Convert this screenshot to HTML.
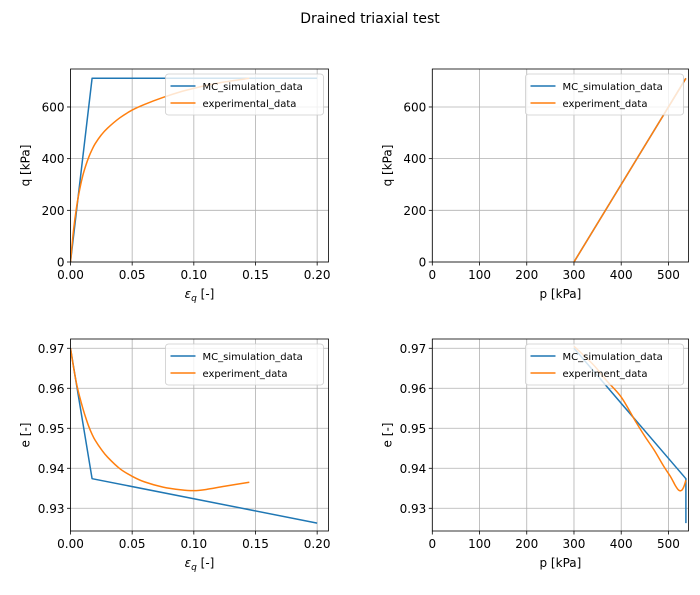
<!DOCTYPE html>
<html><head><meta charset="utf-8"><style>
body{margin:0;background:#fff}
svg{font-family:"DejaVu Sans","Liberation Sans",sans-serif}
</style></head><body>
<svg id="c" width="700" height="590" viewBox="0 0 700 590" xmlns="http://www.w3.org/2000/svg">
<text x="370" y="23" font-size="14" text-anchor="middle" fill="#000">Drained triaxial test</text>
</svg>
<script>
// Data arrays
const mcEps = [0, 0.0175, 0.2];
const mcQ = [0, 711, 711];
const mcE = [0.97, 0.9374, 0.9263];
const mcP = [300, 537, 537];
const mcE2 = [0.97, 0.9374, 0.9263];
const expEps = [0, 0.0025, 0.005, 0.0075, 0.01, 0.0125, 0.015, 0.0175, 0.02, 0.025, 0.03, 0.04, 0.05, 0.06, 0.075, 0.09, 0.1, 0.11, 0.125, 0.145];
const expQ = [0, 125, 215, 282, 335, 375, 408, 435, 458, 492, 518, 558, 588, 610, 637, 660, 672, 683, 697, 711];
const expE = [0.97, 0.9652, 0.961, 0.9578, 0.955, 0.9525, 0.9503, 0.9485, 0.947, 0.9447, 0.9428, 0.9399, 0.938, 0.9366, 0.9353, 0.9346, 0.9344, 0.9347, 0.9355, 0.9365];
const expPq = [300, 537];
const expQq = [0, 711];
const expP = [300, 340, 370, 400, 430, 450, 470, 490, 505, 515, 522, 528, 533, 537];
const expEp = [0.9705, 0.966, 0.9618, 0.9578, 0.9518, 0.948, 0.9445, 0.9405, 0.9378, 0.9356, 0.9345, 0.9345, 0.9355, 0.937];
const xTicksEps = [0, 0.05, 0.1, 0.15, 0.2];
const xTickLabelsEps = ["0.00", "0.05", "0.10", "0.15", "0.20"];
const xTicksP = [0, 100, 200, 300, 400, 500];
const yTicksQ = [0, 200, 400, 600];
const yTicksE = [0.93, 0.94, 0.95, 0.96, 0.97];
const yTickLabelsE = ["0.93", "0.94", "0.95", "0.96", "0.97"];

const svg = document.getElementById('c');
const NS = 'http://www.w3.org/2000/svg';
function mk(tag, attrs, parent) {
  const el = document.createElementNS(NS, tag);
  for (const k in attrs) el.setAttribute(k, attrs[k]);
  (parent || svg).appendChild(el);
  return el;
}
const BLUE = '#1f77b4', ORANGE = '#ff7f0e';

function smoothPath(pts) {
  let d = 'M' + pts[0][0].toFixed(2) + ',' + pts[0][1].toFixed(2);
  for (let i = 0; i < pts.length - 1; i++) {
    const p0 = pts[Math.max(0, i - 1)], p1 = pts[i], p2 = pts[i + 1], p3 = pts[Math.min(pts.length - 1, i + 2)];
    const c1x = p1[0] + (p2[0] - p0[0]) / 6, c1y = p1[1] + (p2[1] - p0[1]) / 6;
    const c2x = p2[0] - (p3[0] - p1[0]) / 6, c2y = p2[1] - (p3[1] - p1[1]) / 6;
    d += ' C' + c1x.toFixed(2) + ',' + c1y.toFixed(2) + ' ' + c2x.toFixed(2) + ',' + c2y.toFixed(2) + ' ' + p2[0].toFixed(2) + ',' + p2[1].toFixed(2);
  }
  return d;
}

function panel(name, box, xd, yd, xt, xtl, yt, ytl, xlabel, ylabel, series, legendLabels) {
  const g = mk('g', {});
  
  
  const sx = v => box.x0 + (v - xd[0]) / (xd[1] - xd[0]) * (box.x1 - box.x0);
  const sy = v => box.y1 - (v - yd[0]) / (yd[1] - yd[0]) * (box.y1 - box.y0);
  xt.forEach((t, i) => {
    const x = sx(t);
    const gl = mk('line', {x1: x, x2: x, y1: box.y0, y2: box.y1, stroke: '#b0b0b0', 'stroke-width': 0.8}, g);
    
    
    mk('line', {x1: x, x2: x, y1: box.y1, y2: box.y1 + 3.5, stroke: '#000', 'stroke-width': 0.8}, g);
    const tx = mk('text', {x: x, y: box.y1 + 17, 'font-size': 12, 'text-anchor': 'middle', fill: '#000'}, g);
    tx.textContent = xtl[i];
    
    
  });
  yt.forEach((t, i) => {
    const y = sy(t);
    const gl = mk('line', {x1: box.x0, x2: box.x1, y1: y, y2: y, stroke: '#b0b0b0', 'stroke-width': 0.8}, g);
    
    
    mk('line', {x1: box.x0 - 3.5, x2: box.x0, y1: y, y2: y, stroke: '#000', 'stroke-width': 0.8}, g);
    const tx = mk('text', {x: box.x0 - 6, y: y + 4.5, 'font-size': 12, 'text-anchor': 'end', fill: '#000'}, g);
    tx.textContent = ytl[i];
    
    
  });
  const cid = 'clip-' + name;
  const cp = mk('clipPath', {id: cid}, g);
  mk('rect', {x: box.x0, y: box.y0, width: box.x1 - box.x0, height: box.y1 - box.y0}, cp);
  series.forEach((s) => {
    const pts = s.xs.map((v, i) => [sx(v), sy(s.ys[i])]);
    const d = s.smooth ? smoothPath(pts) : pts.map((p, i) => (i ? 'L' : 'M') + p[0].toFixed(2) + ',' + p[1].toFixed(2)).join(' ');
    const p = mk('path', {d: d, fill: 'none', stroke: s.c, 'stroke-width': 1.5, 'clip-path': 'url(#' + cid + ')', 'stroke-linejoin': 'round'}, g);
    
    
  });
  const fr = mk('rect', {x: box.x0, y: box.y0, width: box.x1 - box.x0, height: box.y1 - box.y0, fill: 'none', stroke: '#000', 'stroke-width': 0.8}, g);
  
  
  const xl = mk('text', {x: (box.x0 + box.x1) / 2, y: box.y1 + 36, 'font-size': 12, 'text-anchor': 'middle', fill: '#000'}, g);
  xl.innerHTML = xlabel;
  
  
  const yl = mk('text', {x: 0, y: 0, 'font-size': 12, 'text-anchor': 'middle', fill: '#000', transform: 'translate(' + (box.x0 - 41) + ',' + ((box.y0 + box.y1) / 2) + ') rotate(-90)'}, g);
  yl.textContent = ylabel;
  
  
  const lw = legendLabels.w;
  const lg = mk('g', {}, g);
  
  
  const lx = box.x1 - 5 - lw, ly = box.y0 + 5;
  mk('rect', {x: lx, y: ly, width: lw, height: 41, rx: 3, fill: '#fff', 'fill-opacity': 0.8, stroke: '#ccc', 'stroke-width': 0.8}, lg);
  legendLabels.t.forEach((t, i) => {
    const yy = ly + 12 + i * 17;
    mk('line', {x1: lx + 5, x2: lx + 30, y1: yy, y2: yy, stroke: series[i].c, 'stroke-width': 1.5}, lg);
    const tx = mk('text', {x: lx + 37, y: yy + 4, 'font-size': 10, fill: '#000'}, lg);
    tx.textContent = t;
    
    
  });
}

const epsLabel = '<tspan font-style="italic">ε</tspan><tspan font-size="9" font-style="italic" dy="3">q</tspan><tspan dy="-3"> [-]</tspan>';
const boxTL = {x0: 70.5, x1: 328.5, y0: 69, y1: 262};
const boxTR = {x0: 432.3, x1: 688.5, y0: 69, y1: 262};
const boxBL = {x0: 70.5, x1: 328.5, y0: 339, y1: 531};
const boxBR = {x0: 432.3, x1: 688.5, y0: 339, y1: 531};
const epsD = [0, 0.2092], pD = [0, 542.5], qD = [0, 747], eD = [0.92432, 0.97232];
const pLab = xTicksP.map(String), qLab = yTicksQ.map(String);

panel('panel-q-vs-eps', boxTL, epsD, qD, xTicksEps, xTickLabelsEps, yTicksQ, qLab, epsLabel, 'q [kPa]',
  [{xs: mcEps, ys: mcQ, c: BLUE, n: 'mc-simulation-line'}, {xs: expEps, ys: expQ, c: ORANGE, n: 'experimental-line', smooth: true}],
  {w: 158, t: ['MC_simulation_data', 'experimental_data']});
panel('panel-q-vs-p', boxTR, pD, qD, xTicksP, pLab, yTicksQ, qLab, 'p [kPa]', 'q [kPa]',
  [{xs: mcP, ys: mcQ, c: BLUE, n: 'mc-simulation-line'}, {xs: expPq, ys: expQq, c: ORANGE, n: 'experiment-line'}],
  {w: 158, t: ['MC_simulation_data', 'experiment_data']});
panel('panel-e-vs-eps', boxBL, epsD, eD, xTicksEps, xTickLabelsEps, yTicksE, yTickLabelsE, epsLabel, 'e [-]',
  [{xs: mcEps, ys: mcE, c: BLUE, n: 'mc-simulation-line'}, {xs: expEps, ys: expE, c: ORANGE, n: 'experiment-line', smooth: true}],
  {w: 158, t: ['MC_simulation_data', 'experiment_data']});
panel('panel-e-vs-p', boxBR, pD, eD, xTicksP, pLab, yTicksE, yTickLabelsE, 'p [kPa]', 'e [-]',
  [{xs: mcP, ys: mcE2, c: BLUE, n: 'mc-simulation-line'}, {xs: expP, ys: expEp, c: ORANGE, n: 'experiment-line', smooth: true}],
  {w: 158, t: ['MC_simulation_data', 'experiment_data']});
</script>
</body></html>
